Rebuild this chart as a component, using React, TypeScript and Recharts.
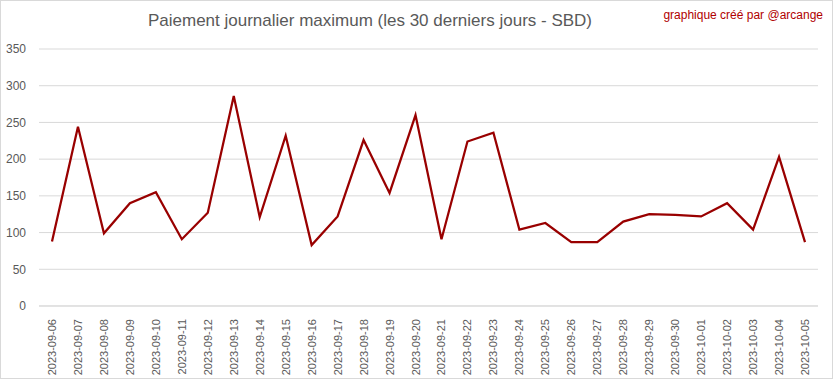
import React from 'react';
import { LineChart, Line, XAxis, YAxis, CartesianGrid } from 'recharts';

const dates = [
  '2023-09-06', '2023-09-07', '2023-09-08', '2023-09-09', '2023-09-10', '2023-09-11',
  '2023-09-12', '2023-09-13', '2023-09-14', '2023-09-15', '2023-09-16', '2023-09-17',
  '2023-09-18', '2023-09-19', '2023-09-20', '2023-09-21', '2023-09-22', '2023-09-23',
  '2023-09-24', '2023-09-25', '2023-09-26', '2023-09-27', '2023-09-28', '2023-09-29',
  '2023-09-30', '2023-10-01', '2023-10-02', '2023-10-03', '2023-10-04', '2023-10-05',
];

const maxPayout = [
  88, 244, 99, 140, 155, 91, 127, 286, 121, 232, 83, 122, 226, 154, 260,
  91, 224, 236, 104, 113, 87, 87, 115, 125, 124, 122, 140, 104, 203, 87,
];

const yTicks = [0, 50, 100, 150, 200, 250, 300, 350];

const data = dates.map((d, i) => ({ date: d, value: maxPayout[i] }));

const font = '"Liberation Sans", Arial, sans-serif';

const DateTick = (props: any) => {
  const { x, y, payload } = props;
  return (
    <text
      x={0}
      y={0}
      transform={`translate(${x + 4},${y + 5}) rotate(-90)`}
      textAnchor="end"
      fill="#595959"
      fontSize={11}
      fontFamily={font}
    >
      {payload.value}
    </text>
  );
};

export default function App() {
  return (
    <div style={{ position: 'absolute', left: 0, top: 0, width: 833, height: 379, background: '#fff' }}>
      <div
        style={{
          position: 'absolute', left: 0, top: 0, width: 831, height: 377,
          border: '1px solid #d9d9d9',
        }}
      />
      <div
        style={{
          position: 'absolute', left: 140, top: 11, width: 460, textAlign: 'center',
          fontFamily: font, fontSize: 17, color: '#595959', whiteSpace: 'nowrap',
        }}
      >
        Paiement journalier maximum (les 30 derniers jours - SBD)
      </div>
      <div
        style={{
          position: 'absolute', right: 10, top: 8, fontFamily: font, fontSize: 12,
          color: '#b00000', whiteSpace: 'nowrap',
        }}
      >
        graphique créé par @arcange
      </div>
      <LineChart
        width={833}
        height={379}
        data={data}
        margin={{ top: 49, right: 15, bottom: 3, left: 0 }}
        style={{ position: 'absolute', left: 0, top: 0 }}
      >
        <CartesianGrid vertical={false} stroke="#d9d9d9" />
        <XAxis
          dataKey="date"
          interval={0}
          height={70}
          padding={{ left: 13, right: 13 }}
          tick={<DateTick />}
          tickLine={false}
          axisLine={{ stroke: '#d9d9d9' }}
        />
        <YAxis
          domain={[0, 350]}
          ticks={yTicks}
          width={39}
          tickLine={false}
          axisLine={false}
          tick={{ fill: '#595959', fontSize: 12, fontFamily: font }}
          tickMargin={7}
        />
        <Line
          type="linear"
          dataKey="value"
          stroke="#990000"
          strokeWidth={2.25}
          dot={false}
          isAnimationActive={false}
        />
      </LineChart>
    </div>
  );
}
